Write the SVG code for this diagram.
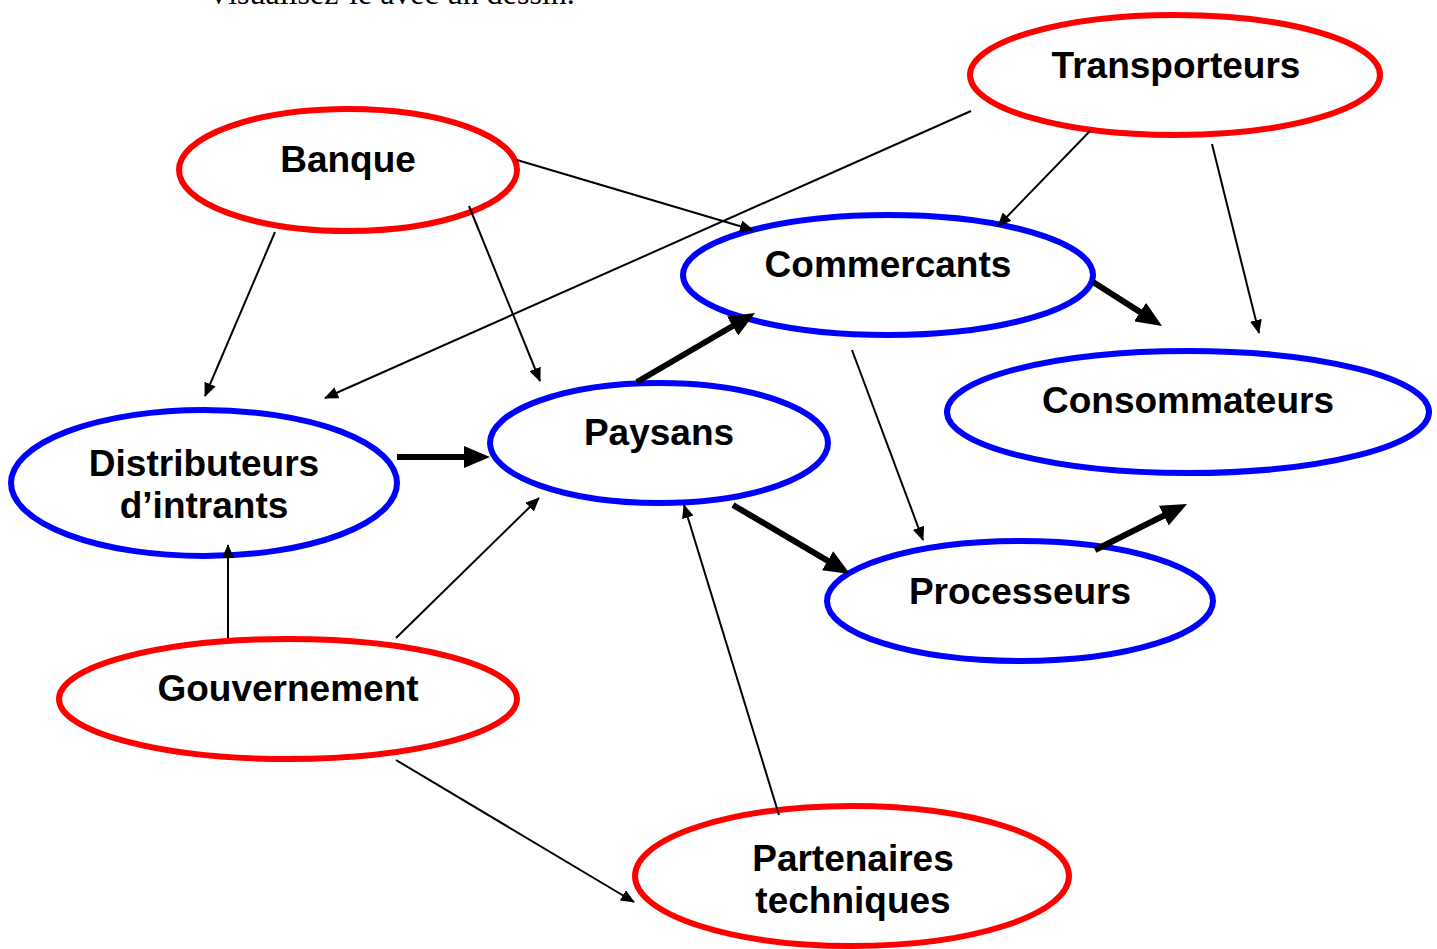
<svg xmlns="http://www.w3.org/2000/svg" width="1437" height="949" viewBox="0 0 1437 949">
  <defs>
    <style>
      .actor { fill: #ffffff; stroke-width: 6; }
      .red { stroke: #ff0000; }
      .blue { stroke: #0000ff; }
      .label { font-family: "Liberation Sans", Arial, sans-serif; font-weight: bold; font-size: 37px; fill: #000000; text-anchor: middle; }
      .thin { stroke: #000000; stroke-width: 2; fill: none; marker-end: url(#head-small); }
      .thick { stroke: #000000; stroke-width: 6; fill: none; marker-end: url(#head-large); }
      .caption { font-family: "Liberation Serif", "Times New Roman", serif; font-size: 32px; fill: #000000; }
    </style>
    <marker id="head-small" markerUnits="userSpaceOnUse" markerWidth="14" markerHeight="12" refX="13" refY="6" orient="auto">
      <path d="M0,0 L14,6 L0,12 z" fill="#000000"/>
    </marker>
    <marker id="head-large" markerUnits="userSpaceOnUse" markerWidth="26" markerHeight="22" refX="16" refY="11" orient="auto">
      <path d="M0,0 L26,11 L0,22 z" fill="#000000"/>
    </marker>
  </defs>

  <rect width="1437" height="949" fill="#ffffff"/>

  <text class="caption" x="207" y="4">Visualisez-le avec un dessin.</text>

  <g id="transporteurs">
    <ellipse class="actor red" cx="1175" cy="75" rx="205" ry="60"/>
    <text class="label" x="1176" y="78">Transporteurs</text>
  </g>
  <g id="banque">
    <ellipse class="actor red" cx="348" cy="170" rx="169" ry="61"/>
    <text class="label" x="348" y="172">Banque</text>
  </g>
  <g id="commercants">
    <ellipse class="actor blue" cx="888" cy="275" rx="205" ry="60"/>
    <text class="label" x="888" y="277">Commercants</text>
  </g>
  <g id="consommateurs">
    <ellipse class="actor blue" cx="1188" cy="412" rx="241" ry="61"/>
    <text class="label" x="1188" y="413">Consommateurs</text>
  </g>
  <g id="paysans">
    <ellipse class="actor blue" cx="659" cy="443" rx="169" ry="60"/>
    <text class="label" x="659" y="445">Paysans</text>
  </g>
  <g id="distributeurs">
    <ellipse class="actor blue" cx="204" cy="483" rx="193" ry="73"/>
    <text class="label" x="204" y="476">Distributeurs</text>
    <text class="label" x="204" y="518">d’intrants</text>
  </g>
  <g id="processeurs">
    <ellipse class="actor blue" cx="1020" cy="601" rx="193" ry="60"/>
    <text class="label" x="1020" y="604">Processeurs</text>
  </g>
  <g id="gouvernement">
    <ellipse class="actor red" cx="288" cy="699" rx="229" ry="60"/>
    <text class="label" x="288" y="701">Gouvernement</text>
  </g>
  <g id="partenaires">
    <ellipse class="actor red" cx="852" cy="876" rx="217" ry="70"/>
    <text class="label" x="853" y="871">Partenaires</text>
    <text class="label" x="853" y="913">techniques</text>
  </g>

  <!-- links between actors, drawn over the ellipse outlines -->
  <g id="connectors">
    <line class="thin" x1="971" y1="111" x2="325" y2="398"/>
    <line class="thin" x1="1090" y1="131" x2="998" y2="226"/>
    <line class="thin" x1="1212" y1="144" x2="1259" y2="333"/>
    <line class="thin" x1="517" y1="160" x2="753" y2="230"/>
    <line class="thin" x1="275" y1="232" x2="205" y2="396"/>
    <line class="thin" x1="469" y1="206" x2="540" y2="381"/>
    <line class="thin" x1="852" y1="350" x2="923" y2="540"/>
    <line class="thin" x1="228" y1="638" x2="228" y2="545"/>
    <line class="thin" x1="396" y1="638" x2="539" y2="498"/>
    <line class="thin" x1="396" y1="760" x2="634" y2="902"/>
    <line class="thin" x1="779" y1="815" x2="684" y2="505"/>

    <line class="thick" x1="397" y1="457" x2="480" y2="457"/>
    <line class="thick" x1="637" y1="382" x2="746.4" y2="318"/>
    <line class="thick" x1="1093" y1="282" x2="1153.6" y2="320.6"/>
    <line class="thick" x1="733" y1="505" x2="841.4" y2="568.9"/>
    <line class="thick" x1="1095" y1="550" x2="1178.1" y2="508.5"/>
  </g>
</svg>
